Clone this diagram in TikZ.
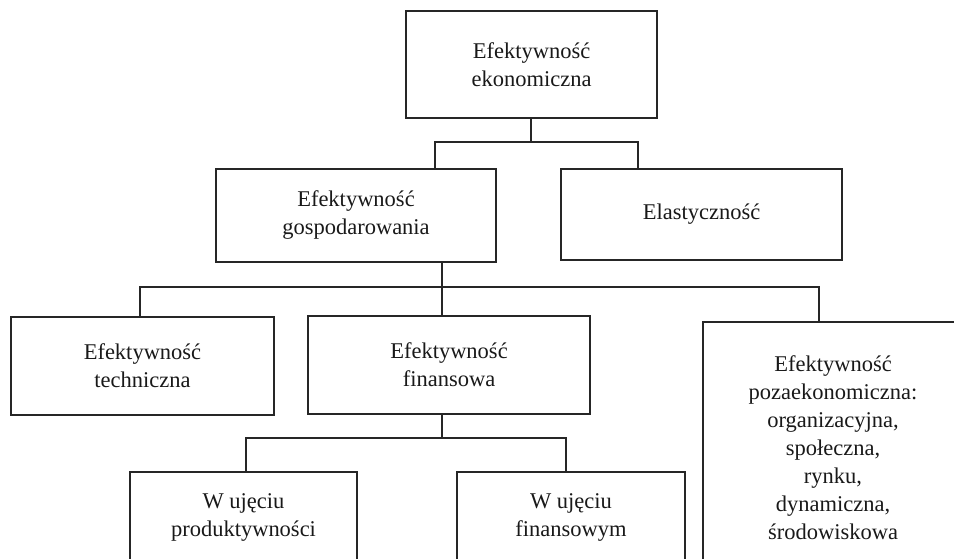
\documentclass[tikz,border=0pt]{standalone}
\usepackage{fontspec}
\setmainfont{Liberation Serif}
\usepackage{tikz}

\begin{document}
\begin{tikzpicture}[x=1pt,y=-1pt,
  box/.style={draw=black!85,line width=1.2pt,align=center,inner sep=0pt,
    font=\fontsize{22.5}{28}\selectfont,text=black!90},
  link/.style={draw=black!85,line width=1.2pt}]
  \useasboundingbox (0,0) rectangle (954,559);
  \clip (0,0) rectangle (954,559);
  \node[box,minimum width=251pt,minimum height=107pt] (eko) at (531.5,64.5) {Efektywność\\ekonomiczna};
  \node[box,minimum width=280pt,minimum height=93pt] (gosp) at (356,215.5) {Efektywność\\gospodarowania};
  \node[box,minimum width=281pt,minimum height=91pt] (elast) at (701.5,214.5) {Elastyczność};
  \node[box,minimum width=263pt,minimum height=98pt] (tech) at (142.5,366) {Efektywność\\techniczna};
  \node[box,minimum width=282pt,minimum height=98pt] (fin) at (449,365) {Efektywność\\finansowa};
  \node[box,minimum width=260pt,minimum height=252pt] (poza) at (833,448) {Efektywność\\pozaekonomiczna:\\organizacyjna,\\społeczna,\\rynku,\\dynamiczna,\\środowiskowa};
  \node[box,minimum width=227pt,minimum height=90pt] (prod) at (243.5,517) {W ujęciu\\produktywności};
  \node[box,minimum width=228pt,minimum height=90pt] (finw) at (571,517) {W ujęciu\\finansowym};
  \coordinate (a1) at (531,142);
  \coordinate (a2) at (435,142);
  \coordinate (a3) at (638,142);
  \draw[link] (a1 |- eko.south) -- (a1);
  \draw[link] (a2 |- gosp.north) -- (a2) -- (a3) -- (a3 |- elast.north);
  \coordinate (b1) at (442,287);
  \coordinate (b2) at (140,287);
  \coordinate (b3) at (819,287);
  \draw[link] (b1 |- gosp.south) -- (b1) -- (b1 |- fin.north);
  \draw[link] (b2 |- tech.north) -- (b2) -- (b3) -- (b3 |- poza.north);
  \coordinate (c1) at (442,438);
  \coordinate (c2) at (246,438);
  \coordinate (c3) at (566,438);
  \draw[link] (c1 |- fin.south) -- (c1);
  \draw[link] (c2 |- prod.north) -- (c2) -- (c3) -- (c3 |- finw.north);
\end{tikzpicture}
\end{document}
